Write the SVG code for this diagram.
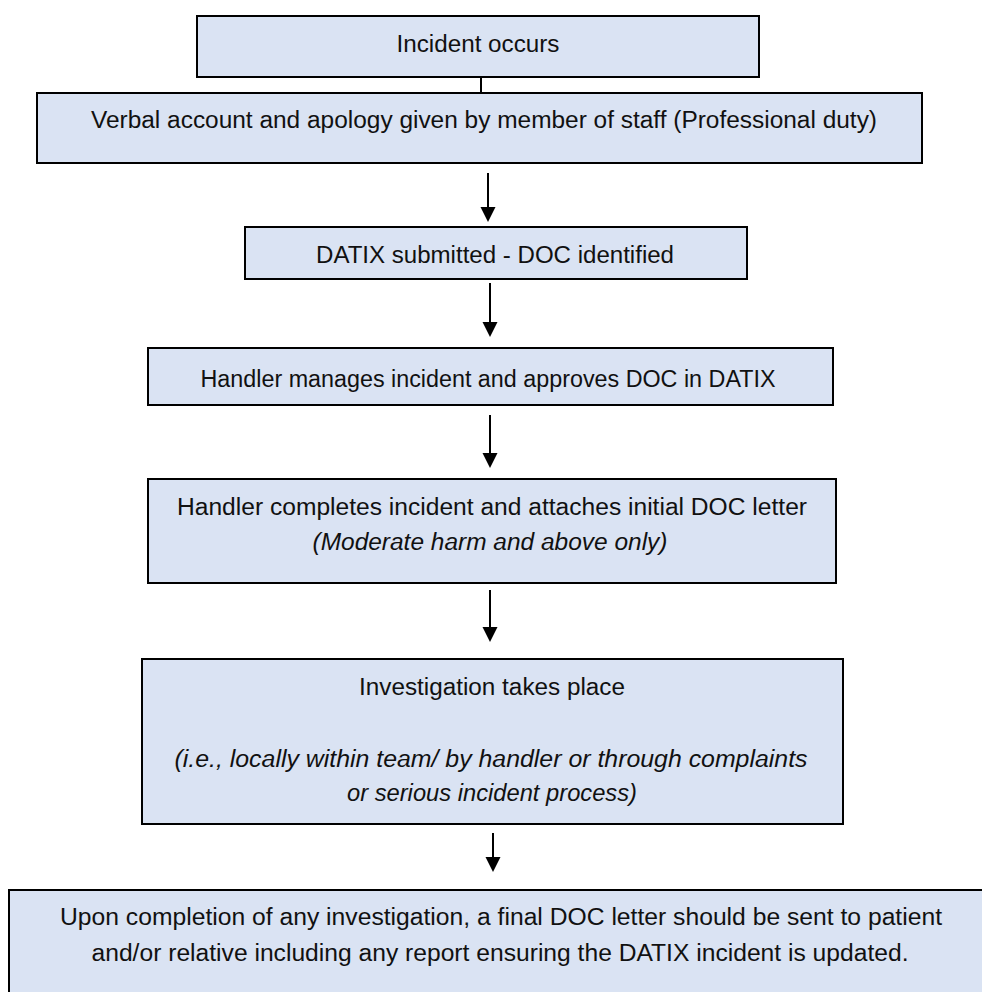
<svg xmlns="http://www.w3.org/2000/svg" width="982" height="992" viewBox="0 0 982 992">
<style>
.box{fill:#dae3f3;stroke:#000;stroke-width:2}
text{font-family:"Liberation Sans",Arial,sans-serif;font-size:23.5px;fill:#111;text-anchor:middle}
.it{font-style:italic}
.conn{stroke:#000;stroke-width:2;fill:none}
</style>
<rect width="982" height="992" fill="#fff"/>
<g id="connectors">
<line class="conn" x1="481" y1="77" x2="481" y2="93"/>
<path class="conn" d="M488,173 V207"/><path d="M480.5,207 H495.5 L488,222 Z"/>
<path class="conn" d="M490,283 V322"/><path d="M482.5,322 H497.5 L490,337 Z"/>
<path class="conn" d="M490,415 V453"/><path d="M482.5,453 H497.5 L490,468 Z"/>
<path class="conn" d="M490,590 V627"/><path d="M482.5,627 H497.5 L490,642 Z"/>
<path class="conn" d="M493,833 V857"/><path d="M485.5,857 H500.5 L493,872 Z"/>
</g>
<g id="n1">
<rect class="box" x="197" y="16" width="562" height="61"/>
<text x="478" y="52" textLength="163" lengthAdjust="spacingAndGlyphs">Incident occurs</text>
</g>
<g id="n2">
<rect class="box" x="37" y="93" width="885" height="70"/>
<text x="484" y="128" textLength="786" lengthAdjust="spacingAndGlyphs">Verbal account and apology given by member of staff (Professional duty)</text>
</g>
<g id="n3">
<rect class="box" x="245" y="227" width="502" height="52"/>
<text x="495" y="263" textLength="358" lengthAdjust="spacingAndGlyphs">DATIX submitted - DOC identified</text>
</g>
<g id="n4">
<rect class="box" x="148" y="348" width="685" height="57"/>
<text x="488" y="387" textLength="575" lengthAdjust="spacingAndGlyphs">Handler manages incident and approves DOC in DATIX</text>
</g>
<g id="n5">
<rect class="box" x="148" y="479" width="688" height="104"/>
<text x="492" y="515" textLength="630" lengthAdjust="spacingAndGlyphs">Handler completes incident and attaches initial DOC letter</text>
<text class="it" x="490" y="550" textLength="355" lengthAdjust="spacingAndGlyphs">(Moderate harm and above only)</text>
</g>
<g id="n6">
<rect class="box" x="142" y="659" width="701" height="165"/>
<text x="492" y="695" textLength="266" lengthAdjust="spacingAndGlyphs">Investigation takes place</text>
<text class="it" x="491" y="767" textLength="633" lengthAdjust="spacingAndGlyphs">(i.e., locally within team/ by handler or through complaints</text>
<text class="it" x="492" y="801" textLength="290" lengthAdjust="spacingAndGlyphs">or serious incident process)</text>
</g>
<g id="n7">
<rect class="box" x="9" y="890" width="990" height="120"/>
<text x="501" y="925" textLength="882" lengthAdjust="spacingAndGlyphs">Upon completion of any investigation, a final DOC letter should be sent to patient</text>
<text x="500" y="961" textLength="817" lengthAdjust="spacingAndGlyphs">and/or relative including any report ensuring the DATIX incident is updated.</text>
</g>
</svg>
